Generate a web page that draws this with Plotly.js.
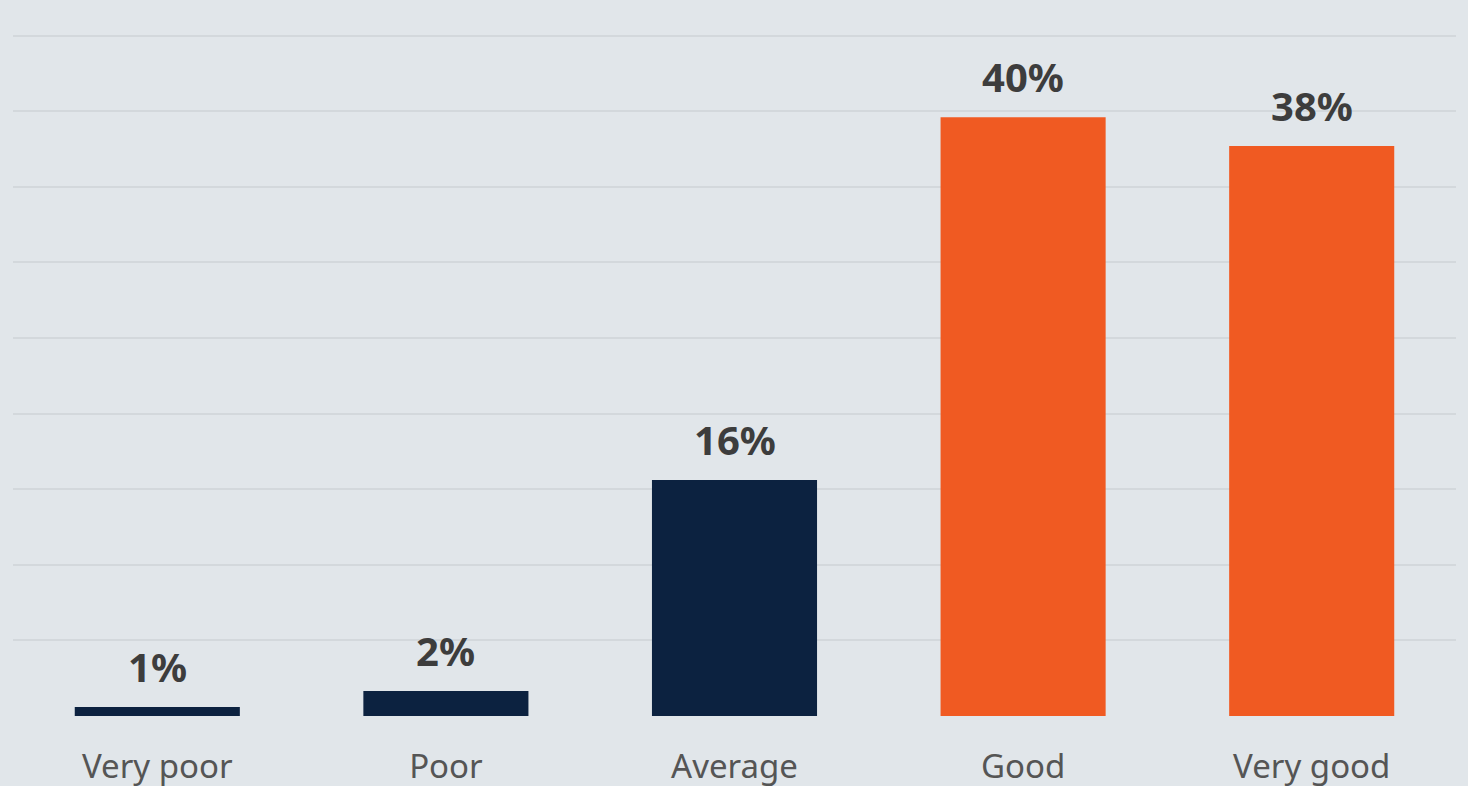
<!DOCTYPE html>
<html>
<head>
<meta charset="utf-8">
<script src="https://cdn.plot.ly/plotly-3.0.1.min.js"></script>
<style>
html,body{margin:0;padding:0;background:#e1e6ea;}
#chart{width:1468px;height:786px;}
</style>
</head>
<body>
<div id="chart"></div>
<script>
const categories = ["Very poor", "Poor", "Average", "Good", "Very good"];
const values = [0.6, 1.65, 15.6, 39.6, 37.7];
const valueLabels = ["1%", "2%", "16%", "40%", "38%"];
const barColors = ["#0c2240", "#0c2240", "#0c2240", "#f05a22", "#f05a22"];

const trace = {
  type: "bar",
  x: categories,
  y: values,
  marker: {color: barColors},
  hoverinfo: "none"
};

const annotations = categories.map((c, i) => ({
  x: c,
  y: values[i],
  xref: "x",
  yref: "y",
  text: valueLabels[i],
  showarrow: false,
  yanchor: "bottom",
  xanchor: "center",
  yshift: 11,
  font: {family: "Noto Sans", size: 40, color: "#3d3d3d", weight: "bold"}
}));

const layout = {
  width: 1468,
  height: 786,
  margin: {l: 13, r: 12, t: 34, b: 70},
  paper_bgcolor: "#e1e6ea",
  plot_bgcolor: "#e1e6ea",
  bargap: 0.428,
  showlegend: false,
  annotations: annotations,
  font: {family: "Noto Sans", color: "#555555"},
  xaxis: {
    showgrid: false,
    showline: false,
    ticks: "",
    ticklabelstandoff: 28,
    tickfont: {family: "Noto Sans", size: 33, color: "#555555"},
    automargin: false
  },
  yaxis: {
    range: [0, 45.1],
    tickvals: [0, 5, 10, 15, 20, 25, 30, 35, 40, 45],
    showticklabels: false,
    showgrid: true,
    gridcolor: "#d3d8dc",
    gridwidth: 2,
    zeroline: false,
    showline: false,
    ticks: ""
  }
};

Plotly.newPlot("chart", [trace], layout, {displayModeBar: false, staticPlot: true});
</script>
</body>
</html>
